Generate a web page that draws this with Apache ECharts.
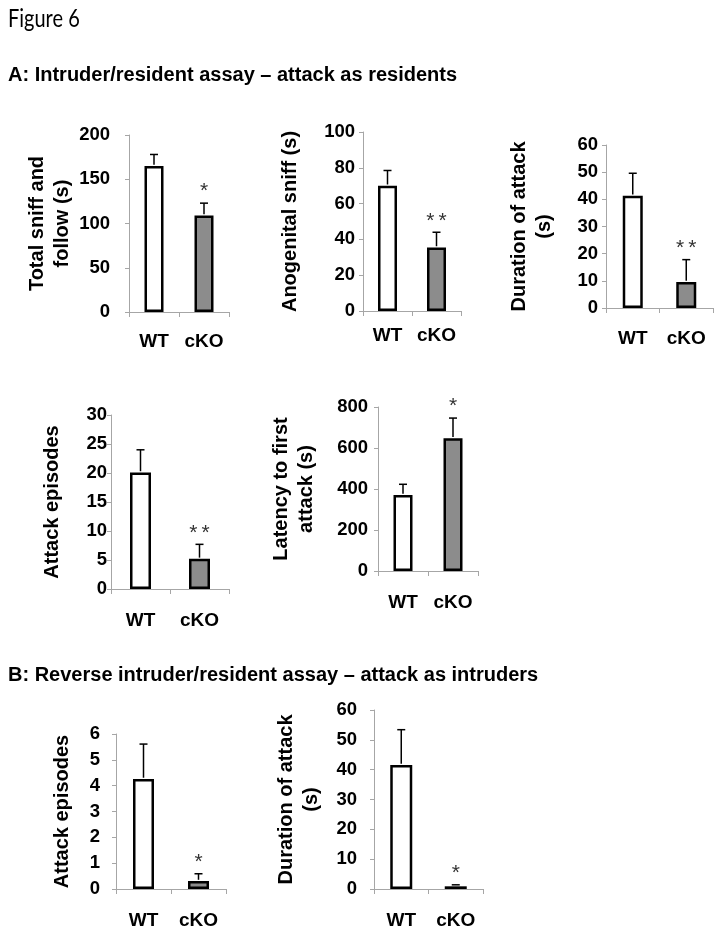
<!DOCTYPE html>
<html><head><meta charset="utf-8">
<script src="https://cdn.jsdelivr.net/npm/echarts@6/dist/echarts.min.js"></script>
<style>html,body{margin:0;padding:0;background:#fff}#c{width:720px;height:934px}</style>
</head><body><div id="c"></div>
<script>
// ---- data ----
const categories = ['WT', 'cKO'];

const sniffFollowMean = [165, 109];
const sniffFollowSem = [13, 14];
const sniffFollowSig = ['', '*'];

const anogenitalMean = [70, 35.5];
const anogenitalSem = [8.5, 8.5];
const anogenitalSig = ['', '**'];

const durationAMean = [41.3, 9.6];
const durationASem = [8.3, 8.2];
const durationASig = ['', '**'];

const episodesAMean = [20.1, 5.2];
const episodesASem = [3.9, 2.5];
const episodesASig = ['', '**'];

const latencyMean = [371, 648];
const latencySem = [52, 98];
const latencySig = ['', '*'];

const episodesBMean = [4.26, 0.31];
const episodesBSem = [1.35, 0.28];
const episodesBSig = ['', '*'];

const durationBMean = [41.6, 0.9];
const durationBSem = [11.8, 0.5];
const durationBSig = ['', '*'];

const axisNames = [
  'Total sniff and\nfollow (s)',
  'Anogenital sniff (s)',
  'Duration of attack\n(s)',
  'Attack episodes',
  'Latency to first\nattack (s)',
  'Attack episodes',
  'Duration of attack\n(s)'
];
// [min, max, interval]
const yTicks = [[0, 200, 50], [0, 100, 20], [0, 60, 10], [0, 30, 5], [0, 800, 200], [0, 6, 1], [0, 60, 10]];

const figureTitle = 'Figure 6';
const sectionA = 'A: Intruder/resident assay \u2013 attack as residents';
const sectionB = 'B: Reverse intruder/resident assay \u2013 attack as intruders';

// ---- layout / style ----
const panelData = [
  [sniffFollowMean, sniffFollowSem, sniffFollowSig],
  [anogenitalMean, anogenitalSem, anogenitalSig],
  [durationAMean, durationASem, durationASig],
  [episodesAMean, episodesASem, episodesASig],
  [latencyMean, latencySem, latencySig],
  [episodesBMean, episodesBSem, episodesBSig],
  [durationBMean, durationBSem, durationBSig]
];
const layout = [
  {left: 129, top: 135, width: 100, height: 177, ylm: 19, xlm: 20, gap: 54, bw: 19},
  {left: 363, top: 132, width: 98, height: 179, ylm: 8, xlm: 15, gap: 60, bw: 19},
  {left: 606, top: 145, width: 107, height: 163, ylm: 8, xlm: 21, gap: 49, bw: 20},
  {left: 111, top: 415, width: 118, height: 174, ylm: 4, xlm: 22, gap: 46, bw: 21},
  {left: 378, top: 407, width: 100, height: 164, ylm: 10, xlm: 22, gap: 59, bw: 19},
  {left: 116, top: 734, width: 110, height: 155, ylm: 16, xlm: 22, gap: 41, bw: 21},
  {left: 374, top: 710, width: 109, height: 179, ylm: 17, xlm: 22, gap: 50, bw: 22}
];
const barColors = ['#ffffff', '#8c8c8c'];
const FONT = '"Liberation Sans", Arial, sans-serif';
const AXIS_GRAY = '#a6a6a6';

const grid = [], xAxis = [], yAxis = [], series = [];
layout.forEach((L, i) => {
  const [mean, sem, sig] = panelData[i];
  const [mn, mx, iv] = yTicks[i];
  grid.push({left: L.left, top: L.top, width: L.width, height: L.height, containLabel: false});
  xAxis.push({
    type: 'category', gridIndex: i, data: categories, boundaryGap: true,
    axisLine: {show: true, lineStyle: {color: AXIS_GRAY, width: 1}},
    axisTick: {show: true, length: 5, interval: 0, lineStyle: {color: AXIS_GRAY}},
    axisLabel: {interval: 0, hideOverlap: false, fontFamily: FONT, fontWeight: 'bold', fontSize: 19, color: '#000', margin: L.xlm},
    splitLine: {show: false}
  });
  yAxis.push({
    type: 'value', gridIndex: i, min: mn, max: mx, interval: iv,
    name: axisNames[i], nameLocation: 'middle', nameGap: L.gap, nameRotate: 90,
    nameTextStyle: {fontFamily: FONT, fontWeight: 'bold', fontSize: 20, color: '#000', lineHeight: 25, align: 'center'},
    axisLine: {show: true, lineStyle: {color: AXIS_GRAY, width: 1}},
    axisTick: {show: true, length: 4, lineStyle: {color: AXIS_GRAY}},
    axisLabel: {fontFamily: FONT, fontWeight: 'bold', fontSize: 18.5, color: '#000', margin: L.ylm},
    splitLine: {show: false}
  });
  series.push({
    type: 'bar', xAxisIndex: i, yAxisIndex: i, barWidth: L.bw, silent: true,
    data: mean.map((v, k) => ({value: v, itemStyle: {color: barColors[k], borderColor: '#000', borderWidth: 2.5}})),
    z: 2
  });
  series.push({
    type: 'custom', xAxisIndex: i, yAxisIndex: i, silent: true, z: 3,
    data: mean.map((v, k) => [k, v, v + sem[k]]),
    renderItem: function (params, api) {
      const k = api.value(0);
      const p0 = api.coord([k, api.value(1)]);
      const p1 = api.coord([k, api.value(2)]);
      const cap = 4;
      const children = [
        {type: 'line', shape: {x1: p0[0], y1: p0[1] - 1.2, x2: p1[0], y2: p1[1]}, style: {stroke: '#000', lineWidth: 1.5}},
        {type: 'line', shape: {x1: p1[0] - cap, y1: p1[1], x2: p1[0] + cap, y2: p1[1]}, style: {stroke: '#000', lineWidth: 1.5}}
      ];
      const s = sig[params.dataIndex];
      if (s) {
        children.push({type: 'text', x: p1[0], y: p1[1] - 1, style: {
          text: s.split('').join('\u2009'), fill: '#333', font: '21px ' + FONT, align: 'center', verticalAlign: 'bottom'}});
      }
      return {type: 'group', children: children};
    }
  });
});

const chart = echarts.init(document.getElementById('c'), null, {renderer: 'canvas', width: 720, height: 934});
chart.setOption({
  backgroundColor: '#fff',
  animation: false,
  grid, xAxis, yAxis, series,
  graphic: [
    {type: 'text', x: 8, y: 6, scaleX: 0.8, style: {text: figureTitle, font: '25px Lato, "Open Sans", sans-serif', fill: '#000'}},
    {type: 'text', x: 8, y: 65, style: {text: sectionA, font: 'bold 20px ' + FONT, fill: '#000'}},
    {type: 'text', x: 8, y: 665, style: {text: sectionB, font: 'bold 20px ' + FONT, fill: '#000'}}
  ]
});
</script></body></html>
